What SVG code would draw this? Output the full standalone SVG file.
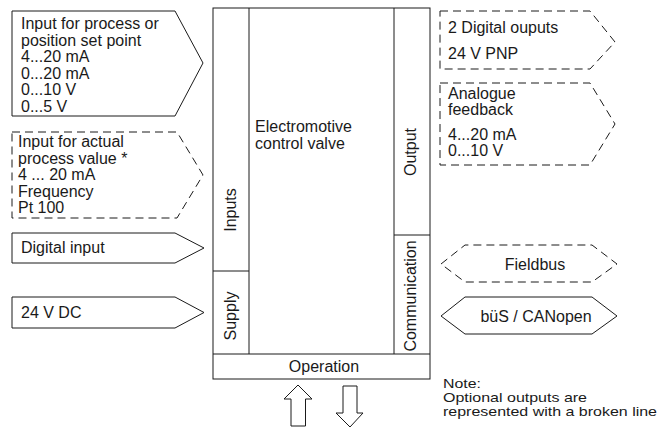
<svg xmlns="http://www.w3.org/2000/svg" width="662" height="428" viewBox="0 0 662 428">
<style>
.s{fill:#fff;stroke:#1a1a1a;stroke-width:1}
.d{fill:#fff;stroke:#1a1a1a;stroke-width:1;stroke-dasharray:8 5}
text{font-family:"Liberation Sans",Arial,sans-serif;font-size:16px;fill:#1a1a1a}
.n{font-size:13.5px}
.m{text-anchor:middle}
</style>
<rect width="662" height="428" fill="#fff"/>
<g id="valve">
<rect class="s" x="213" y="8" width="217" height="371"/>
<line class="s" x1="249" y1="8" x2="249" y2="354"/>
<line class="s" x1="394" y1="8" x2="394" y2="354"/>
<line class="s" x1="213" y1="354" x2="430" y2="354"/>
<line class="s" x1="213" y1="271" x2="249" y2="271"/>
<line class="s" x1="394" y1="235" x2="430" y2="235"/>
<text x="255" y="132">Electromotive</text>
<text x="255" y="148.5">control valve</text>
<text class="m" transform="translate(236,210) rotate(-90)">Inputs</text>
<text class="m" transform="translate(236,316) rotate(-90)">Supply</text>
<text class="m" transform="translate(416,152) rotate(-90)">Output</text>
<text class="m" transform="translate(416,296) rotate(-90)">Communication</text>
<text class="m" x="324" y="372">Operation</text>
</g>
<g id="in-setpoint">
<path class="s" d="M12 11H175L203 63L175 116H12Z"/>
<text x="21" y="29">Input for process or</text>
<text x="21" y="45.6">position set point</text>
<text x="21" y="62.2">4...20 mA</text>
<text x="21" y="78.8">0...20 mA</text>
<text x="21" y="95.4">0...10 V</text>
<text x="21" y="112">0...5 V</text>
</g>
<g id="in-actual">
<path class="d" d="M12 132H177L203 175L177 218H12Z"/>
<text x="18" y="147">Input for actual</text>
<text x="18" y="163.5">process value *</text>
<text x="18" y="180">4 ... 20 mA</text>
<text x="18" y="196.5">Frequency</text>
<text x="18" y="213">Pt 100</text>
</g>
<g id="in-digital">
<path class="s" d="M12 233H175L204 248L175 263H12Z"/>
<text x="21" y="253">Digital input</text>
</g>
<g id="in-supply">
<path class="s" d="M12 297H175L204 312.5L175 328H12Z"/>
<text x="21" y="318">24 V DC</text>
</g>
<g id="out-digital">
<path class="d" d="M440 11H590L615 42L590 69H440Z"/>
<text x="448" y="33">2 Digital ouputs</text>
<text x="448" y="59">24 V PNP</text>
</g>
<g id="out-analogue">
<path class="d" d="M440 83H590L615 124L590 165H440Z"/>
<text x="448" y="99">Analogue</text>
<text x="448" y="115">feedback</text>
<text x="448" y="140">4...20 mA</text>
<text x="448" y="156">0...10 V</text>
</g>
<g id="fieldbus">
<path class="d" d="M441 264L465 245H592L617 264L592 282H465Z"/>
<text class="m" x="535" y="270">Fieldbus</text>
</g>
<g id="bus">
<path class="s" d="M441 316L465 297H592L617 316L592 334H465Z"/>
<text class="m" x="536" y="322">büS / CANopen</text>
</g>
<g id="connectors">
<path class="s" d="M298 385L312 399H305.5V426H291V399H284Z"/>
<path class="s" d="M343 386H357V413H363L350 427L336 413H343Z"/>
</g>
<g id="note">
<text class="n" x="443" y="388" textLength="38" lengthAdjust="spacingAndGlyphs">Note:</text>
<text class="n" x="443" y="402" textLength="144" lengthAdjust="spacingAndGlyphs">Optional outputs are</text>
<text class="n" x="443" y="416" textLength="214" lengthAdjust="spacingAndGlyphs">represented with a broken line</text>
</g>
</svg>
